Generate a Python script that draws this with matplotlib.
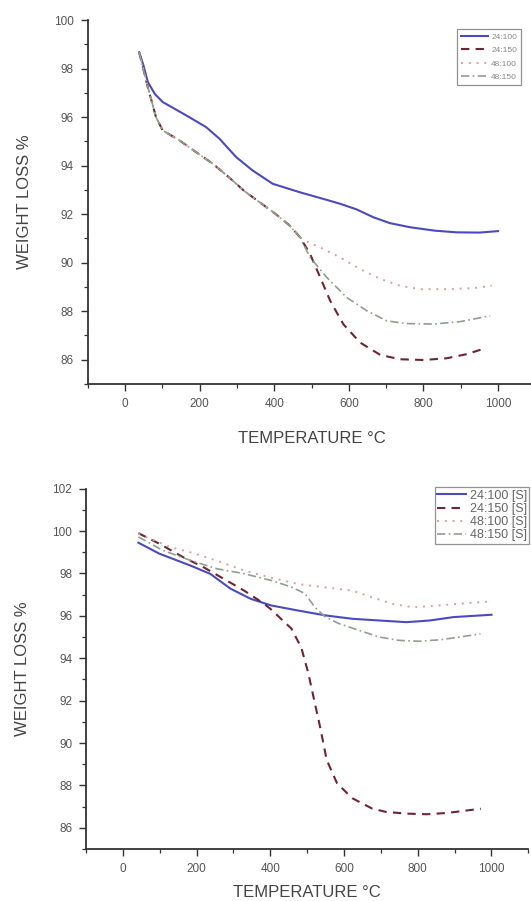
import matplotlib.pyplot as plt
from matplotlib.ticker import MultipleLocator

# 上图数据 (TGA)
t_a1 = [38, 50, 61, 80, 101, 164, 217, 253, 298, 342, 396, 469, 538, 576, 620, 666, 710, 764, 830, 889, 950, 1000]
w_a1 = [98.67, 98.1, 97.45, 96.95, 96.62, 96.07, 95.59, 95.11, 94.35, 93.8, 93.25, 92.9, 92.6, 92.43, 92.2, 91.87, 91.63, 91.46, 91.32, 91.25, 91.24, 91.3]

t_common = [38, 61, 83, 101, 146, 190, 235, 280, 320, 360, 400, 440, 469]
w_common = [98.67, 97.24, 96.0, 95.45, 95.04, 94.56, 94.08, 93.5, 92.95, 92.5, 92.05, 91.55, 91.05]

t_a2 = t_common + [496, 523, 550, 585, 630, 684, 737, 800, 862, 916, 965]
w_a2 = w_common + [90.36, 89.4, 88.43, 87.47, 86.71, 86.2, 86.02, 85.99, 86.06, 86.23, 86.47]

t_a3 = t_common + [496, 523, 576, 630, 684, 737, 791, 862, 934, 983]
w_a3 = w_common + [90.8, 90.63, 90.22, 89.74, 89.33, 89.05, 88.91, 88.91, 88.95, 89.05]

t_a4 = t_common + [496, 541, 594, 648, 702, 755, 827, 898, 979]
w_a4 = w_common + [90.22, 89.39, 88.57, 88.02, 87.6, 87.49, 87.47, 87.57, 87.81]

# 下图数据 [S]
t_b1 = [42, 99, 182, 237, 292, 347, 402, 475, 549, 622, 695, 769, 833, 897, 1000]
w_b1 = [99.45, 98.93, 98.38, 97.98, 97.28, 96.8, 96.49, 96.25, 96.02, 95.86, 95.78, 95.7, 95.78, 95.94, 96.05]

t_b2 = [42, 99, 163, 218, 273, 328, 383, 402, 457, 484, 503, 521, 535, 553, 581, 622, 677, 714, 769, 824, 879, 971]
w_b2 = [99.9, 99.4, 98.77, 98.3, 97.75, 97.2, 96.57, 96.3, 95.4, 94.5, 93.3, 91.86, 90.76, 89.2, 88.1, 87.4, 86.9, 86.75, 86.67, 86.64, 86.7, 86.9]

t_b3 = [42, 127, 182, 255, 328, 402, 475, 549, 622, 677, 732, 787, 860, 934, 1000]
w_b3 = [99.87, 99.25, 99.0, 98.6, 98.14, 97.8, 97.5, 97.34, 97.19, 96.87, 96.56, 96.4, 96.49, 96.6, 96.68]

t_b4 = [42, 108, 182, 255, 328, 402, 457, 494, 521, 549, 585, 640, 695, 750, 805, 860, 915, 970]
w_b4 = [99.72, 99.09, 98.62, 98.22, 97.99, 97.67, 97.36, 97.05, 96.4, 95.95, 95.64, 95.32, 95.0, 94.84, 94.8, 94.87, 95.0, 95.15]

labels_a = ["24:100", "24:150", "48:100", "48:150"]
labels_b = ["24:100 [S]", "24:150 [S]", "48:100 [S]", "48:150 [S]"]

colors = ["#4a4ac0", "#6e2434", "#d8a0a0", "#8fa08f"]
styles = ["-", (0, (4, 3)), (0, (1, 3)), (0, (5, 2, 1, 2))]
widths = [1.5, 1.5, 1.4, 1.2]

plt.rcParams["font.family"] = ["Liberation Sans", "DejaVu Sans"]

fig = plt.figure(figsize=(5.31, 9.01), dpi=100)
ax1 = fig.add_axes([0.1652, 0.5738, 0.843, 0.404])
ax2 = fig.add_axes([0.162, 0.0577, 0.833, 0.400])


def style_axis(ax, ylim, xpad):
    ax.set_xlim(-100, 1100)
    ax.set_ylim(*ylim)
    ax.xaxis.set_major_locator(MultipleLocator(200))
    ax.xaxis.set_minor_locator(MultipleLocator(100))
    ax.yaxis.set_major_locator(MultipleLocator(2))
    ax.yaxis.set_minor_locator(MultipleLocator(1))
    for s in ["top", "right"]:
        ax.spines[s].set_visible(False)
    for s in ["left", "bottom"]:
        ax.spines[s].set_color("#333333")
        ax.spines[s].set_linewidth(1.3)
    ax.tick_params(which="major", direction="out", length=5, width=1, colors="#333333",
                   labelsize=8.5, labelcolor="#555555", pad=5)
    ax.tick_params(which="minor", direction="out", length=3, width=0.9, colors="#333333")
    ax.set_xlabel("TEMPERATURE °C", fontsize=12, color="#444444", labelpad=xpad)
    ax.set_ylabel("WEIGHT LOSS %", fontsize=12, color="#444444", labelpad=16)


data_a = [(t_a1, w_a1), (t_a2, w_a2), (t_a3, w_a3), (t_a4, w_a4)]
for (t, w), lab, c, ls, lw in zip(data_a, labels_a, colors, styles, widths):
    ax1.plot(t, w, color=c, linestyle=ls, linewidth=lw, label=lab)
style_axis(ax1, (85, 100), 15)
leg1 = ax1.legend(loc="upper left", bbox_to_anchor=(0.825, 0.975), borderaxespad=0,
                  fontsize=6, frameon=True, fancybox=False, handlelength=3.2,
                  labelspacing=0.65, borderpad=0.5, handletextpad=0.4)
leg1.get_frame().set_edgecolor("#777777")
leg1.get_frame().set_linewidth(0.9)
for txt in leg1.get_texts():
    txt.set_color("#888888")

data_b = [(t_b1, w_b1), (t_b2, w_b2), (t_b3, w_b3), (t_b4, w_b4)]
for (t, w), lab, c, ls, lw in zip(data_b, labels_b, colors, styles, widths):
    ax2.plot(t, w, color=c, linestyle=ls, linewidth=lw, label=lab)
style_axis(ax2, (85, 102), 7)
leg2 = ax2.legend(loc="upper left", bbox_to_anchor=(0.788, 1.004), borderaxespad=0,
                  fontsize=9, frameon=True, fancybox=False, handlelength=2.3,
                  labelspacing=0.1, borderpad=0.2, handletextpad=0.3)
leg2.get_frame().set_edgecolor("#777777")
leg2.get_frame().set_linewidth(0.9)
for txt in leg2.get_texts():
    txt.set_color("#666666")

fig.savefig("out.png", dpi=100)
